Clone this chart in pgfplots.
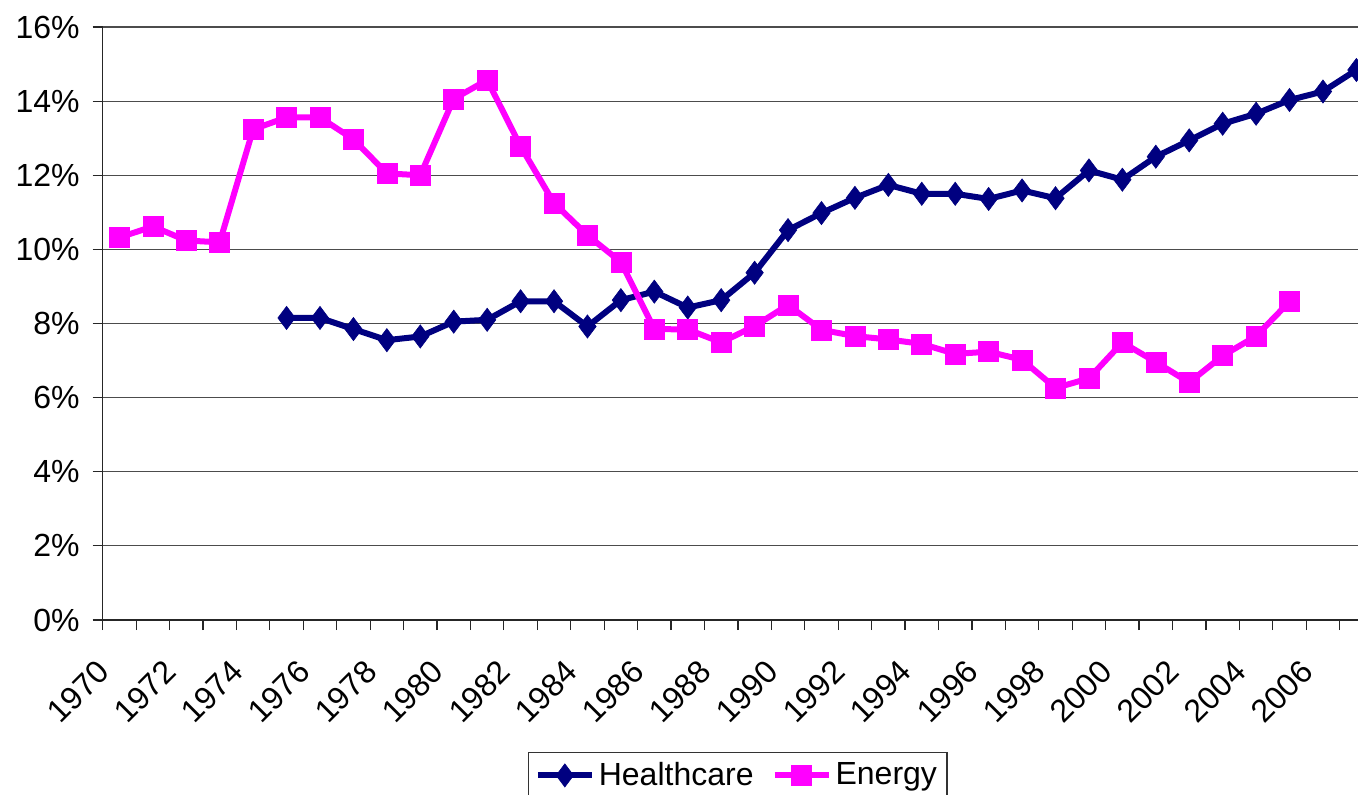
\documentclass[border=0pt]{standalone}
\usepackage{fontspec}
\setmainfont{Liberation Sans}
\usepackage{pgfplots}
\pgfplotsset{compat=1.18}
\definecolor{hc}{RGB}{0,0,128}
\definecolor{en}{RGB}{255,0,255}
\begin{document}
\begin{tikzpicture}[font=\fontsize{16pt}{19pt}\selectfont]
\begin{axis}[
  scale only axis, width=635.2pt, height=296.5pt,
  xmin=1969.5, xmax=2007.5, ymin=0, ymax=16,
  axis x line*=bottom, axis y line*=left,
  axis line style={black!85, line width=0.8pt},
  ytick={0,2,...,16},
  yticklabels={0\%,2\%,4\%,6\%,8\%,10\%,12\%,14\%,16\%},
  ymajorgrids, grid style={black!70, line width=0.6pt},
  xtick={1970,1972,...,2006},
  xticklabels={1970,1972,1974,1976,1978,1980,1982,1984,1986,1988,1990,1992,1994,1996,1998,2000,2002,2004,2006},
  minor xtick={1969.5,1970.5,...,2007.5},
  major x tick style={draw=none},
  minor x tick style={black!85, line width=0.6pt},
  major y tick style={black!85, line width=0.6pt},
  tick align=outside, major tick length=5pt, minor tick length=5pt,
  yticklabel style={xshift=-3pt},
  xticklabel style={xshift=-12pt, yshift=-14pt, rotate=45, anchor=north east, inner sep=0pt},
  legend style={at={(0.5,-0.2221)}, anchor=north, legend columns=2, draw=black!80, line width=0.6pt,
    inner xsep=3pt, inner ysep=3pt, font=\fontsize{16pt}{19pt}\selectfont,
    /tikz/every even column/.append style={column sep=7pt}},
  legend cell align=left,
  legend image code/.code={\draw[mark repeat=2,mark phase=2,#1] plot coordinates {(0pt,0pt) (13.5pt,0pt) (27pt,0pt)};},
]
\addplot[color=hc, line width=3pt, mark=diamond*, mark size=5.8pt, mark options={solid, line width=0.3pt, fill=hc}] coordinates {
(1975,8.15) (1976,8.15) (1977,7.85) (1978,7.55) (1979,7.65) (1980,8.05) (1981,8.1) (1982,8.6) (1983,8.6)
(1984,7.92) (1985,8.63) (1986,8.86) (1987,8.43) (1988,8.63) (1989,9.37) (1990,10.52) (1991,10.98)
(1992,11.39) (1993,11.74) (1994,11.5) (1995,11.5) (1996,11.36) (1997,11.59) (1998,11.38) (1999,12.13)
(2000,11.88) (2001,12.5) (2002,12.94) (2003,13.39) (2004,13.66) (2005,14.03) (2006,14.26) (2007,14.84)
};
\addlegendentry{Healthcare}
\addplot[color=en, line width=3pt, mark=square*, mark size=5pt, mark options={solid, line width=0.3pt, fill=en}] coordinates {
(1970,10.32) (1971,10.62) (1972,10.24) (1973,10.19) (1974,13.24) (1975,13.56) (1976,13.56) (1977,12.97)
(1978,12.05) (1979,12.0) (1980,14.06) (1981,14.57) (1982,12.78) (1983,11.25) (1984,10.38) (1985,9.66)
(1986,7.85) (1987,7.84) (1988,7.49) (1989,7.93) (1990,8.5) (1991,7.83) (1992,7.66) (1993,7.57)
(1994,7.45) (1995,7.18) (1996,7.24) (1997,7.02) (1998,6.26) (1999,6.52) (2000,7.49) (2001,6.96)
(2002,6.41) (2003,7.13) (2004,7.66) (2005,8.59)
};
\addlegendentry{Energy}
\coordinate (O) at (axis cs:1969.5,0);
\end{axis}
\pgfresetboundingbox
\path (O) ++(-51.35pt,-87pt) rectangle ++(679pt,397pt);
\end{tikzpicture}
\end{document}
